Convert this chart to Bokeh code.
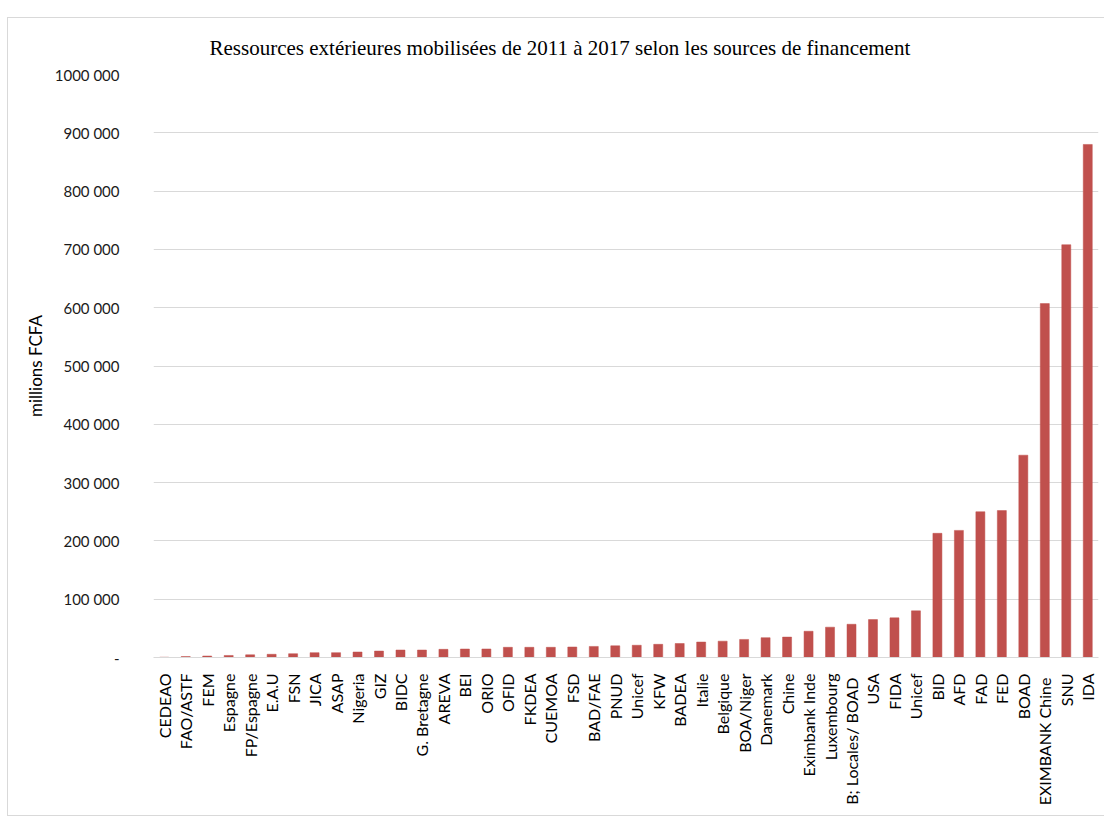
import math
from bokeh.plotting import figure
from bokeh.models import ColumnDataSource, FixedTicker
from bokeh.embed import file_html
from bokeh.resources import INLINE

sources = ["CEDEAO", "FAO/ASTF", "FEM", "Espagne", "FP/Espagne", "E.A.U", "FSN", "JICA",
           "ASAP", "Nigeria", "GIZ", "BIDC", "G. Bretagne", "AREVA", "BEI", "ORIO", "OFID",
           "FKDEA", "CUEMOA", "FSD", "BAD/FAE", "PNUD", "Unicef", "KFW", "BADEA", "Italie",
           "Belgique", "BOA/Niger", "Danemark", "Chine", "Eximbank Inde", "Luxembourg",
           "B; Locales/  BOAD", "USA", "FIDA", "Unicef", "BID", "AFD", "FAD", "FED", "BOAD",
           "EXIMBANK  Chine", "SNU", "IDA"]
values = [500, 1700, 2500, 3500, 4600, 5500, 6500, 8300, 8300, 9400, 11000, 12800, 12800,
          14000, 14500, 14600, 17500, 17500, 17500, 18000, 19000, 20000, 21000, 22600, 24000,
          26500, 28000, 31000, 34000, 35000, 45000, 52000, 57000, 65000, 68000, 80000, 213000,
          218000, 250000, 252000, 347000, 607000, 708000, 880000]
y_ticks = [0, 100000, 200000, 300000, 400000, 500000, 600000, 700000, 800000, 900000, 1000000]
y_tick_labels = ["-", "100 000", "200 000", "300 000", "400 000", "500 000", "600 000",
                 "700 000", "800 000", "900 000", "1000 000"]
title_text = "Ressources extérieures mobilisées de 2011 à 2017 selon les sources de financement"
y_label = "millions FCFA"

xs = list(range(len(sources)))
src = ColumnDataSource(dict(x=xs, top=values))

p = figure(width=1096, height=797, x_range=(-0.5, len(sources) - 0.5), y_range=(0, 1000000),
           output_backend="svg", toolbar_location=None,
           min_border_left=145, min_border_right=6, min_border_top=56, min_border_bottom=158,
           margin=(18, 0, 0, 8))
p.styles = {"outline": "1px solid #d9d9d9"}
p.outline_line_color = None

p.vbar(x="x", top="top", width=0.42, bottom=0, source=src, fill_color="#C0504D",
       line_color="#C0504D", line_width=0.5)

p.title.text = title_text
p.title.align = "left"
p.title.offset = 56
p.title.text_font = "Liberation Serif"
p.title.text_font_size = "21px"
p.title.text_font_style = "normal"
p.title.text_color = "#000000"
p.title.standoff = 30

# y axis
p.yaxis.ticker = FixedTicker(ticks=y_ticks)
p.yaxis.major_label_overrides = {t: l for t, l in zip(y_ticks, y_tick_labels)}
p.yaxis.axis_line_color = None
p.yaxis.major_tick_line_color = None
p.yaxis.minor_tick_line_color = None
p.yaxis.major_label_standoff = 28
p.yaxis.major_label_text_font = "Lato"
p.yaxis.major_label_text_font_size = "15px"
p.yaxis.major_label_text_color = "#1a1a1a"
p.yaxis.axis_label = y_label
p.yaxis.axis_label_text_font = "Lato"
p.yaxis.axis_label_text_font_size = "17px"
p.yaxis.axis_label_text_font_style = "normal"
p.yaxis.axis_label_text_color = "#000000"
p.yaxis.axis_label_standoff = 6

# x axis
p.xaxis.ticker = FixedTicker(ticks=xs)
p.xaxis.major_label_overrides = {i: s for i, s in zip(xs, sources)}
p.xaxis.major_label_orientation = math.pi / 2
p.xaxis.axis_line_color = "#d9d9d9"
p.xaxis.major_tick_line_color = None
p.xaxis.minor_tick_line_color = None
p.xaxis.major_label_standoff = 10
p.xaxis.major_label_text_font = "Lato"
p.xaxis.major_label_text_font_size = "16px"
p.xaxis.major_label_text_color = "#000000"

p.xgrid.grid_line_color = None
p.ygrid.grid_line_color = "#d9d9d9"
p.ygrid.grid_line_width = 1

p.background_fill_color = "white"
p.border_fill_color = "white"

open("out.html", "w").write(file_html(p, INLINE))
